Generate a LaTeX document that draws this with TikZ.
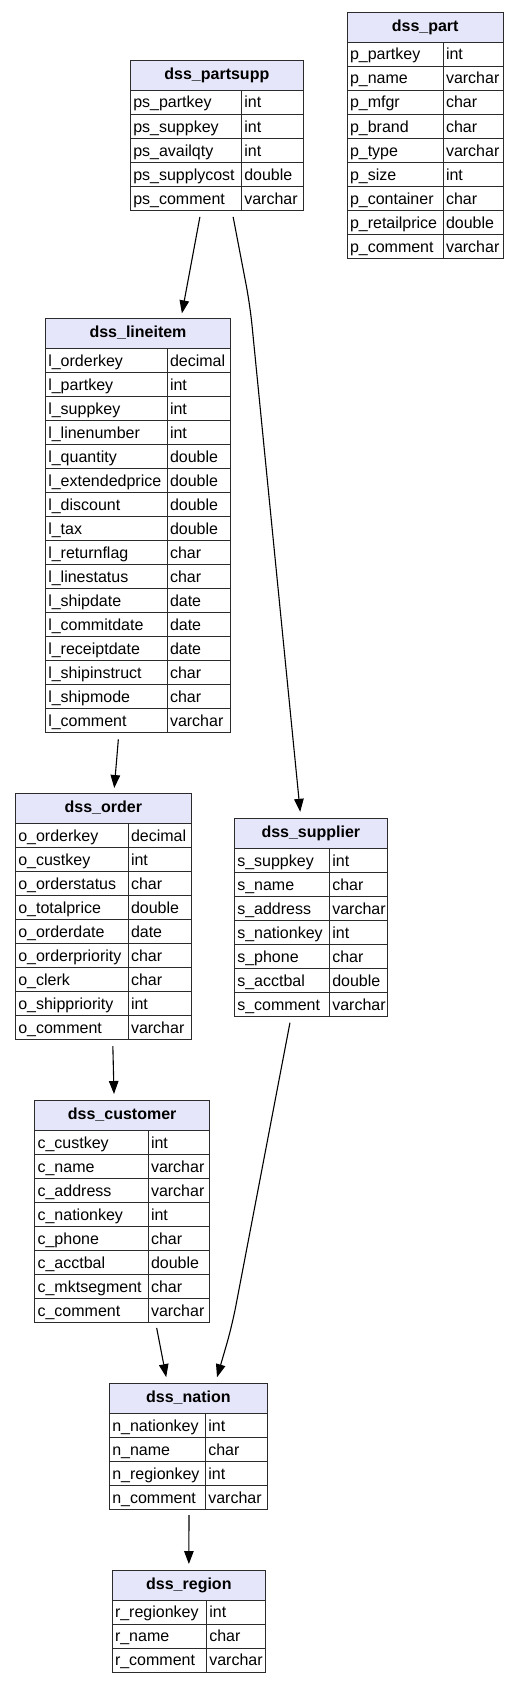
\documentclass[tikz,border=0pt]{standalone}
\usepackage{fontspec}
\setmainfont{Liberation Sans}
\usepackage{xcolor}
\definecolor{rule}{HTML}{2B2B2B}
\definecolor{headfill}{HTML}{E6E6FA}
\usepackage{tikz}
\usetikzlibrary{arrows.meta, positioning, calc}
% name, title, left, top, key width, type width, rows
\newcommand{\dbtable}[7]{%
  \pgfmathsetmacro{\keyw}{#5-5.6}%
  \pgfmathsetmacro{\typew}{#6-5.6}%
  \node[tblhead, minimum width={#5+#6}, anchor=north west] (#1) at (#3,#4) {#2};
  \foreach \key/\typ [count=\i] in {#7} {
    \node[keycell, text width=\keyw pt, anchor=north west]
      (#1-k\i) at ({#3},{#4+30+(\i-1)*24}) {\key};
    \node[typecell, text width=\typew pt, anchor=north west]
      (#1-t\i) at ({#3+#5},{#4+30+(\i-1)*24}) {\typ};
  }
}

\begin{document}
\begin{tikzpicture}[
  x=1pt, y=-1pt,
  font=\fontsize{16}{19}\selectfont,
  tblhead/.style={
    draw=rule, fill=headfill, line width=1pt,
    minimum height=30pt, inner sep=0pt,
    text height=13pt, text depth=5pt, font=\fontsize{16}{19}\selectfont\bfseries
  },
  keycell/.style={
    draw=rule, line width=1pt, minimum height=24pt,
    inner xsep=2.8pt, inner ysep=0pt,
    text height=14pt, text depth=3pt, align=left
  },
  typecell/.style={keycell},
  fk/.style={-{Triangle[length=13pt, width=9.5pt]}, line width=1.1pt, black}
]
  \useasboundingbox (0,0) rectangle (520,1683);

  \dbtable{part}{dss\_part}{346.7}{12}{96}{60}{p\_partkey/int, p\_name/varchar,
    p\_mfgr/char, p\_brand/char, p\_type/varchar, p\_size/int,
    p\_container/char, p\_retailprice/double, p\_comment/varchar}
  \dbtable{partsupp}{dss\_partsupp}{130}{60}{111}{61.7}{ps\_partkey/int,
    ps\_suppkey/int, ps\_availqty/int, ps\_supplycost/double, ps\_comment/varchar}
  \dbtable{lineitem}{dss\_lineitem}{45}{318.3}{121.7}{63.3}{l\_orderkey/decimal,
    l\_partkey/int, l\_suppkey/int, l\_linenumber/int, l\_quantity/double,
    l\_extendedprice/double, l\_discount/double, l\_tax/double,
    l\_returnflag/char, l\_linestatus/char, l\_shipdate/date,
    l\_commitdate/date, l\_receiptdate/date, l\_shipinstruct/char,
    l\_shipmode/char, l\_comment/varchar}
  \dbtable{order}{dss\_order}{15}{793}{112.7}{63}{o\_orderkey/decimal,
    o\_custkey/int, o\_orderstatus/char, o\_totalprice/double,
    o\_orderdate/date, o\_orderpriority/char, o\_clerk/char,
    o\_shippriority/int, o\_comment/varchar}
  \dbtable{supplier}{dss\_supplier}{234}{818.3}{95}{57.7}{s\_suppkey/int,
    s\_name/char, s\_address/varchar, s\_nationkey/int, s\_phone/char,
    s\_acctbal/double, s\_comment/varchar}
  \dbtable{customer}{dss\_customer}{34.3}{1100}{113.4}{61.3}{c\_custkey/int,
    c\_name/varchar, c\_address/varchar, c\_nationkey/int, c\_phone/char,
    c\_acctbal/double, c\_mktsegment/char, c\_comment/varchar}
  \dbtable{nation}{dss\_nation}{109}{1383}{96}{61.7}{n\_nationkey/int,
    n\_name/char, n\_regionkey/int, n\_comment/varchar}
  \dbtable{region}{dss\_region}{111.7}{1569.5}{94.3}{59}{r\_regionkey/int,
    r\_name/char, r\_comment/varchar}

  % foreign keys
  \coordinate (ps-bend) at (250,305);
  \coordinate (su-bend) at (232,1326);
  \draw[fk, shorten <=6pt, shorten >=5pt]
    ([xshift=-41pt]partsupp-k5.south east) -- ([xshift=43pt]lineitem.north);
  \draw[fk, shorten <=6pt, shorten >=6.5pt, rounded corners=20pt]
    ([xshift=-9pt]partsupp-t5.south west) -- (ps-bend) -- ([xshift=-10pt]supplier.north);
  \draw[fk, shorten <=6pt, shorten >=5pt]
    ([xshift=12.5pt]lineitem-k16.south) -- ([xshift=10.5pt]order.north);
  \draw[fk, shorten <=6pt, shorten >=6pt]
    ([xshift=-16pt]order-k9.south east) -- ([xshift=-8pt]customer.north);
  \draw[fk, shorten <=5pt, shorten >=6pt]
    ([xshift=7pt]customer-k8.south east) -- ([xshift=-21pt]nation.north);
  \draw[fk, shorten <=5.5pt, shorten >=6pt, rounded corners=20pt]
    ([xshift=9pt]supplier-k7.south) -- (su-bend) -- ([xshift=27pt]nation.north);
  \draw[fk, shorten <=5pt, shorten >=5.5pt]
    ([xshift=-17pt]nation-k4.south east) -- (region.north);
\end{tikzpicture}
\end{document}
